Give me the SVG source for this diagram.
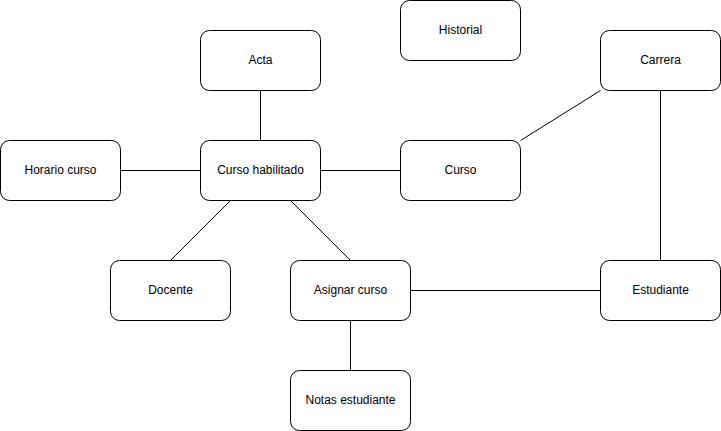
<svg xmlns="http://www.w3.org/2000/svg" width="721" height="431" viewBox="0 0 721 431">
<style>
.n rect{fill:#fff;stroke:#000;stroke-width:1}
.n text{font-family:"Liberation Sans",Arial,sans-serif;font-size:12px;fill:#000;text-anchor:middle;dominant-baseline:central}
.e line{stroke:#000;stroke-width:1}
</style>
<rect width="721" height="431" fill="#fff"/>
<g class="e" id="connectors">
<line x1="260.5" y1="90.5" x2="260.5" y2="140.5"/>
<line x1="120.5" y1="170.5" x2="200.5" y2="170.5"/>
<line x1="320.5" y1="170.5" x2="400.5" y2="170.5"/>
<line x1="520.5" y1="140.5" x2="600.5" y2="90.5"/>
<line x1="660.5" y1="90.5" x2="660.5" y2="260.5"/>
<line x1="230.5" y1="200.5" x2="170.5" y2="260.5"/>
<line x1="290.5" y1="200.5" x2="350.5" y2="260.5"/>
<line x1="410.5" y1="290.5" x2="600.5" y2="290.5"/>
<line x1="350.5" y1="320.5" x2="350.5" y2="370.5"/>
</g>
<g class="n" id="historial"><rect x="400.5" y="0.5" width="120" height="60" rx="9"/><text x="460.5" y="29.5">Historial</text></g>
<g class="n" id="acta"><rect x="200.5" y="30.5" width="120" height="60" rx="9"/><text x="260.5" y="59.5">Acta</text></g>
<g class="n" id="carrera"><rect x="600.5" y="30.5" width="120" height="60" rx="9"/><text x="660.5" y="59.5">Carrera</text></g>
<g class="n" id="horario"><rect x="0.5" y="140.5" width="120" height="60" rx="9"/><text x="60.5" y="169.5">Horario curso</text></g>
<g class="n" id="cursohab"><rect x="200.5" y="140.5" width="120" height="60" rx="9"/><text x="260.5" y="169.5">Curso habilitado</text></g>
<g class="n" id="curso"><rect x="400.5" y="140.5" width="120" height="60" rx="9"/><text x="460.5" y="169.5">Curso</text></g>
<g class="n" id="docente"><rect x="110.5" y="260.5" width="120" height="60" rx="9"/><text x="170.5" y="289.5">Docente</text></g>
<g class="n" id="asignar"><rect x="290.5" y="260.5" width="120" height="60" rx="9"/><text x="350.5" y="289.5">Asignar curso</text></g>
<g class="n" id="estudiante"><rect x="600.5" y="260.5" width="120" height="60" rx="9"/><text x="660.5" y="289.5">Estudiante</text></g>
<g class="n" id="notas"><rect x="290.5" y="370.5" width="120" height="60" rx="9"/><text x="350.5" y="399.5">Notas estudiante</text></g>
</svg>
